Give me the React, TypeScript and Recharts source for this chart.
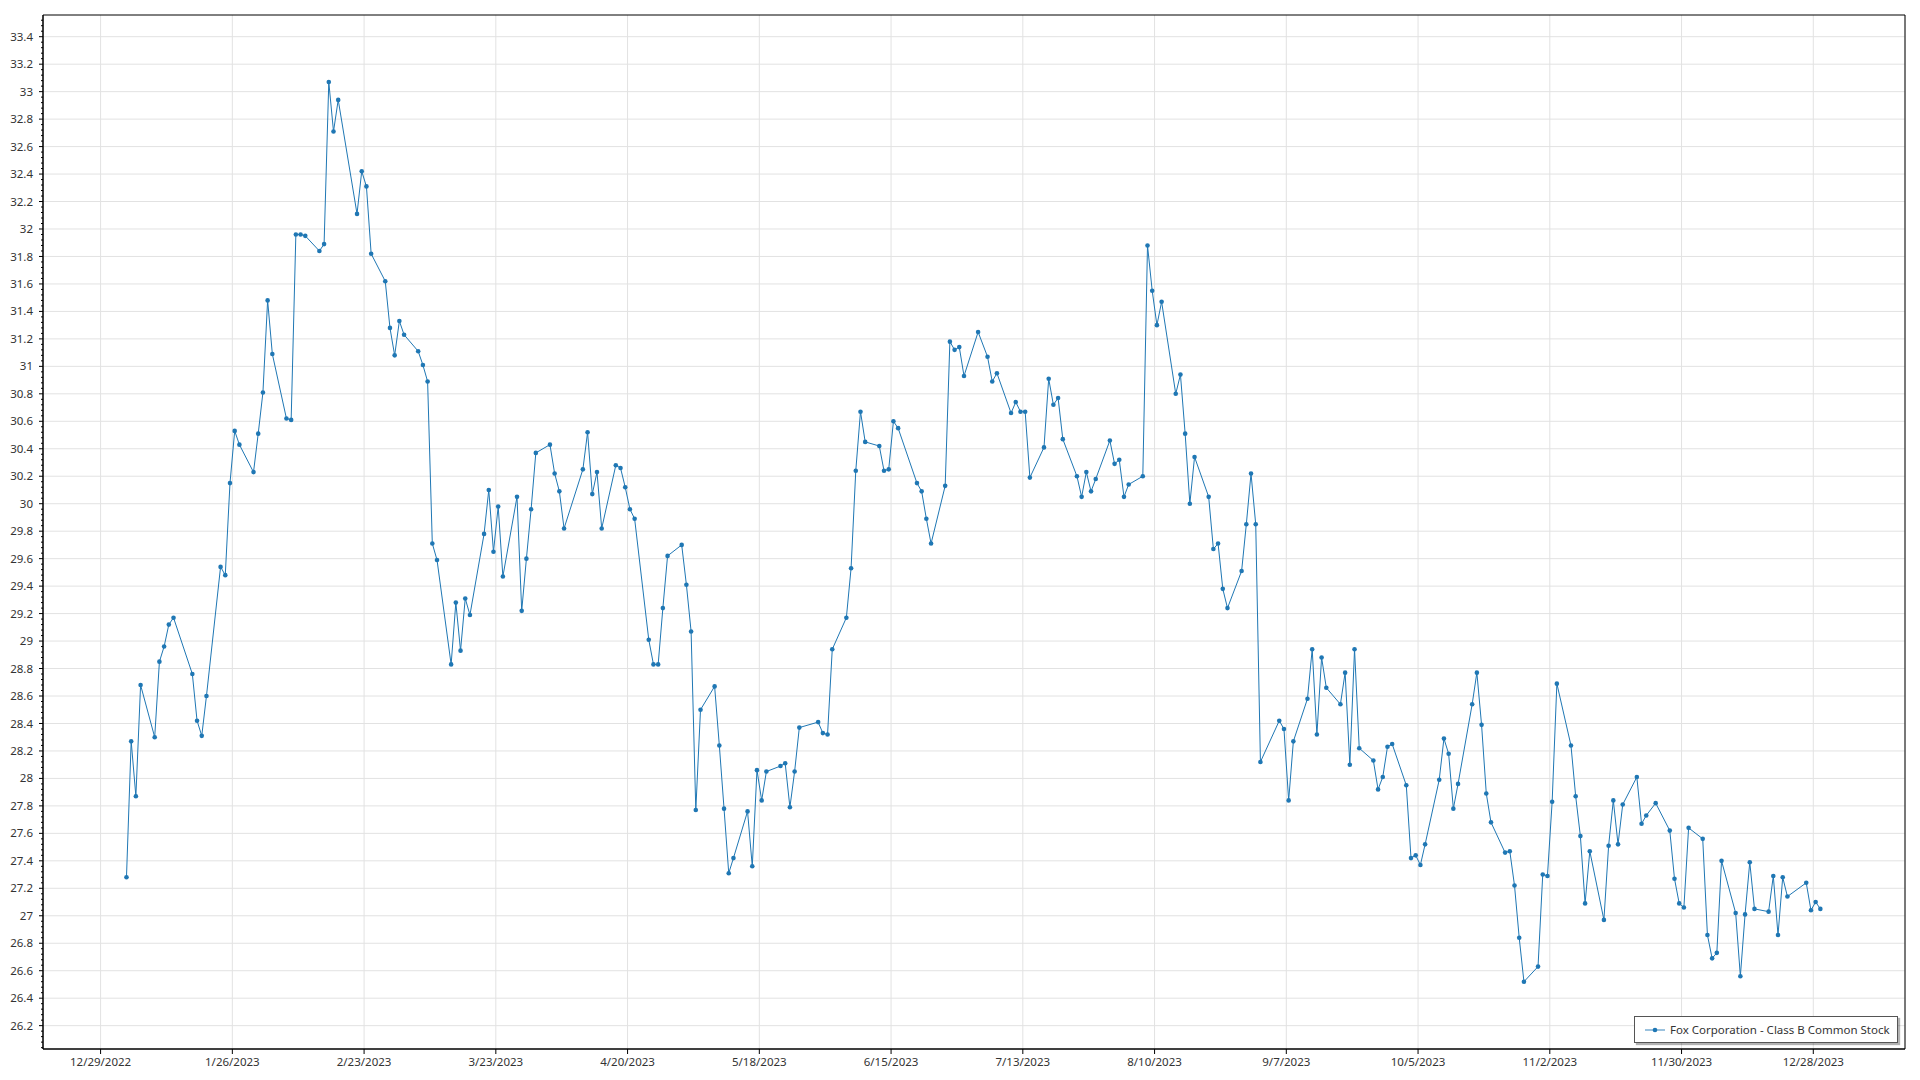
import React from "react";
import { LineChart, Line, XAxis, YAxis, CartesianGrid, ReferenceArea } from "recharts";

// Daily closes for 2023
const q1Dates = [
  "1/3", "1/4", "1/5", "1/6", "1/9", "1/10", "1/11", "1/12", "1/13", "1/17", "1/18", "1/19", "1/20",
  "1/23", "1/24", "1/25", "1/26", "1/27", "1/30", "1/31",
  "2/1", "2/2", "2/3", "2/6", "2/7", "2/8", "2/9", "2/10", "2/13", "2/14", "2/15", "2/16", "2/17",
  "2/21", "2/22", "2/23", "2/24", "2/27", "2/28",
  "3/1", "3/2", "3/3", "3/6", "3/7", "3/8", "3/9", "3/10", "3/13", "3/14", "3/15", "3/16", "3/17",
  "3/20", "3/21", "3/22", "3/23", "3/24", "3/27", "3/28", "3/29", "3/30", "3/31",
];
const q1Close = [
  27.28, 28.27, 27.87, 28.68, 28.3, 28.85, 28.96, 29.12, 29.17, 28.76, 28.42, 28.31, 28.6,
  29.54, 29.48, 30.15, 30.53, 30.43, 30.23, 30.51,
  30.81, 31.48, 31.09, 30.62, 30.61, 31.96, 31.96, 31.95, 31.84, 31.89, 33.07, 32.71, 32.94,
  32.11, 32.42, 32.31, 31.82, 31.62, 31.28,
  31.08, 31.33, 31.23, 31.11, 31.01, 30.89, 29.71, 29.59, 28.83, 29.28, 28.93, 29.31, 29.19,
  29.78, 30.1, 29.65, 29.98, 29.47, 30.05, 29.22, 29.6, 29.96, 30.37,
];

const q2Dates = [
  "4/3", "4/4", "4/5", "4/6", "4/10", "4/11", "4/12", "4/13", "4/14", "4/17", "4/18", "4/19", "4/20",
  "4/21", "4/24", "4/25", "4/26", "4/27", "4/28",
  "5/1", "5/2", "5/3", "5/4", "5/5", "5/8", "5/9", "5/10", "5/11", "5/12", "5/15", "5/16", "5/17",
  "5/18", "5/19", "5/22", "5/23", "5/24", "5/25", "5/26", "5/30", "5/31",
  "6/1", "6/2", "6/5", "6/6", "6/7", "6/8", "6/9", "6/12", "6/13", "6/14", "6/15", "6/16", "6/20",
  "6/21", "6/22", "6/23", "6/26", "6/27", "6/28", "6/29", "6/30",
];
const q2Close = [
  30.43, 30.22, 30.09, 29.82, 30.25, 30.52, 30.07, 30.23, 29.82, 30.28, 30.26, 30.12, 29.96,
  29.89, 29.01, 28.83, 28.83, 29.24, 29.62,
  29.7, 29.41, 29.07, 27.77, 28.5, 28.67, 28.24, 27.78, 27.31, 27.42, 27.76, 27.36, 28.06,
  27.84, 28.05, 28.09, 28.11, 27.79, 28.05, 28.37, 28.41, 28.33,
  28.32, 28.94, 29.17, 29.53, 30.24, 30.67, 30.45, 30.42, 30.24, 30.25, 30.6, 30.55, 30.15,
  30.09, 29.89, 29.71, 30.13, 31.18, 31.12, 31.14, 30.93,
];

const q3Dates = [
  "7/3", "7/5", "7/6", "7/7", "7/10", "7/11", "7/12", "7/13", "7/14", "7/17", "7/18", "7/19", "7/20",
  "7/21", "7/24", "7/25", "7/26", "7/27", "7/28", "7/31",
  "8/1", "8/2", "8/3", "8/4", "8/7", "8/8", "8/9", "8/10", "8/11", "8/14", "8/15", "8/16", "8/17",
  "8/18", "8/21", "8/22", "8/23", "8/24", "8/25", "8/28", "8/29", "8/30", "8/31",
  "9/1", "9/5", "9/6", "9/7", "9/8", "9/11", "9/12", "9/13", "9/14", "9/15", "9/18", "9/19", "9/20",
  "9/21", "9/22", "9/25", "9/26", "9/27", "9/28", "9/29",
];
const q3Close = [
  31.25, 31.07, 30.89, 30.95, 30.66, 30.74, 30.67, 30.67, 30.19, 30.41, 30.91, 30.72, 30.77,
  30.47, 30.2, 30.05, 30.23, 30.09, 30.18, 30.46,
  30.29, 30.32, 30.05, 30.14, 30.2, 31.88, 31.55, 31.3, 31.47, 30.8, 30.94, 30.51, 30.0,
  30.34, 30.05, 29.67, 29.71, 29.38, 29.24, 29.51, 29.85, 30.22, 29.85,
  28.12, 28.42, 28.36, 27.84, 28.27, 28.58, 28.94, 28.32, 28.88, 28.66, 28.54, 28.77, 28.1,
  28.94, 28.22, 28.13, 27.92, 28.01, 28.23, 28.25,
];

const q4Dates = [
  "10/2", "10/3", "10/4", "10/5", "10/6", "10/9", "10/10", "10/11", "10/12", "10/13", "10/16", "10/17",
  "10/18", "10/19", "10/20", "10/23", "10/24", "10/25", "10/26", "10/27", "10/30", "10/31",
  "11/1", "11/2", "11/3", "11/6", "11/7", "11/8", "11/9", "11/10", "11/13", "11/14", "11/15", "11/16",
  "11/17", "11/20", "11/21", "11/22", "11/24", "11/27", "11/28", "11/29", "11/30",
  "12/1", "12/4", "12/5", "12/6", "12/7", "12/8", "12/11", "12/12", "12/13", "12/14", "12/15",
  "12/18", "12/19", "12/20", "12/21", "12/22", "12/26", "12/27", "12/28", "12/29",
];
const q4Close = [
  27.95, 27.42, 27.44, 27.37, 27.52, 27.99, 28.29, 28.18, 27.78, 27.96, 28.54, 28.77,
  28.39, 27.89, 27.68, 27.46, 27.47, 27.22, 26.84, 26.52, 26.63, 27.3,
  27.29, 27.83, 28.69, 28.24, 27.87, 27.58, 27.09, 27.47, 26.97, 27.51, 27.84, 27.52,
  27.81, 28.01, 27.67, 27.73, 27.82, 27.62, 27.27, 27.09, 27.06,
  27.64, 27.56, 26.86, 26.69, 26.73, 27.4, 27.02, 26.56, 27.01, 27.39, 27.05,
  27.03, 27.29, 26.86, 27.28, 27.14, 27.24, 27.04, 27.1, 27.05,
];

const xTickLabels = [
  "12/29/2022", "1/26/2023", "2/23/2023", "3/23/2023", "4/20/2023", "5/18/2023", "6/15/2023",
  "7/13/2023", "8/10/2023", "9/7/2023", "10/5/2023", "11/2/2023", "11/30/2023", "12/28/2023",
];

const SERIES_NAME = "Fox Corporation - Class B Common Stock";
const BLUE = "#1f77b4";
const FONT = "'Segoe UI', 'Noto Sans', sans-serif";
const FONT_SIZE = 11.5;

const DAY_MS = 86400000;
const ORIGIN = Date.UTC(2022, 11, 29);

// days since 12/29/2022, points sit at mid-session
function dayOf(year: number, md: string, midday: boolean) {
  const [m, d] = md.split("/").map(Number);
  return (Date.UTC(year, m - 1, d) - ORIGIN) / DAY_MS + (midday ? 0.5 : 0);
}

function fmtDate(day: number) {
  const dt = new Date(ORIGIN + Math.round(day) * DAY_MS);
  return `${dt.getUTCMonth() + 1}/${dt.getUTCDate()}/${dt.getUTCFullYear()}`;
}

const allDates = [...q1Dates, ...q2Dates, ...q3Dates, ...q4Dates];
const allClose = [...q1Close, ...q2Close, ...q3Close, ...q4Close];
const data = allDates.map((md, i) => ({ x: dayOf(2023, md, true), close: allClose[i] }));

const xTicks = xTickLabels.map((s) => {
  const [m, d, y] = s.split("/").map(Number);
  return dayOf(y, `${m}/${d}`, false);
});

const X_DOMAIN: [number, number] = [-12.24, 383.49];
const Y_DOMAIN: [number, number] = [26.03, 33.558];

const yMajor = Array.from({ length: 37 }, (_, i) => +(26.2 + i * 0.2).toFixed(1));
const yAllTicks = Array.from({ length: 189 }, (_, i) => +(26.04 + i * 0.04).toFixed(2)).filter(
  (v) => v >= Y_DOMAIN[0] && v <= Y_DOMAIN[1]
);

const Y_TICK_SIZE = 4;
const Y_TICK_MARGIN = 6;

function YTick(props: any) {
  const { x, y, payload } = props;
  const v = payload.value as number;
  const major = Math.abs(v * 5 - Math.round(v * 5)) < 1e-6;
  const axisX = x + Y_TICK_SIZE + Y_TICK_MARGIN;
  return (
    <g>
      <line x1={axisX} x2={axisX - (major ? 4 : 2)} y1={y} y2={y} stroke="#000" strokeWidth={1} />
      {major && (
        <text x={x} y={y} dy="0.355em" textAnchor="end" fill="#333" fontSize={FONT_SIZE} fontFamily={FONT}>
          {String(Number(v.toFixed(1)))}
        </text>
      )}
    </g>
  );
}

function ChartLegend() {
  return (
    <div
      style={{
        position: "absolute",
        left: 1634,
        top: 1016,
        width: 262,
        height: 25,
        border: "1px solid #555",
        background: "#fff",
        boxShadow: "2px 2px 1px rgba(0,0,0,0.3)",
        display: "flex",
        alignItems: "center",
        fontFamily: FONT,
        fontSize: FONT_SIZE,
        color: "#333",
        whiteSpace: "nowrap",
      }}
    >
      <svg width={20} height={8} style={{ marginLeft: 10 }}>
        <line x1={0} x2={20} y1={4} y2={4} stroke={BLUE} strokeOpacity={0.6} strokeWidth={1.5} />
        <circle cx={10} cy={4} r={2.3} fill={BLUE} />
      </svg>
      <span style={{ marginLeft: 5 }}>{SERIES_NAME}</span>
    </div>
  );
}

export default function App() {
  return (
    <div style={{ position: "absolute", left: 0, top: 0, width: 1920, height: 1080, background: "#fff" }}>
      <LineChart width={1920} height={1080} data={data} margin={{ top: 15, right: 15, bottom: 0, left: 0 }}>
        <CartesianGrid stroke="#e2e2e2" horizontalValues={yMajor} />
        <XAxis
          dataKey="x"
          type="number"
          domain={X_DOMAIN}
          allowDataOverflow
          ticks={xTicks}
          interval={0}
          tickFormatter={fmtDate}
          height={31}
          tickSize={5}
          tickMargin={4}
          axisLine={{ stroke: "#000" }}
          tickLine={{ stroke: "#000" }}
          tick={{ fill: "#333", fontSize: FONT_SIZE, fontFamily: FONT }}
        />
        <YAxis
          type="number"
          domain={Y_DOMAIN}
          allowDataOverflow
          ticks={yAllTicks}
          interval={0}
          width={43}
          tickSize={Y_TICK_SIZE}
          tickMargin={Y_TICK_MARGIN}
          axisLine={{ stroke: "#000" }}
          tickLine={false}
          tick={<YTick />}
        />
        <Line
          dataKey="close"
          name={SERIES_NAME}
          stroke={BLUE}
          strokeWidth={1}
          dot={{ r: 2.3, fill: BLUE, stroke: "none" }}
          activeDot={false}
          isAnimationActive={false}
        />
        <ReferenceArea
          x1={X_DOMAIN[0]}
          x2={X_DOMAIN[1]}
          y1={Y_DOMAIN[0]}
          y2={Y_DOMAIN[1]}
          fill="none"
          stroke="#000"
          strokeWidth={1}
          ifOverflow="visible"
        />
      </LineChart>
      <ChartLegend />
    </div>
  );
}
